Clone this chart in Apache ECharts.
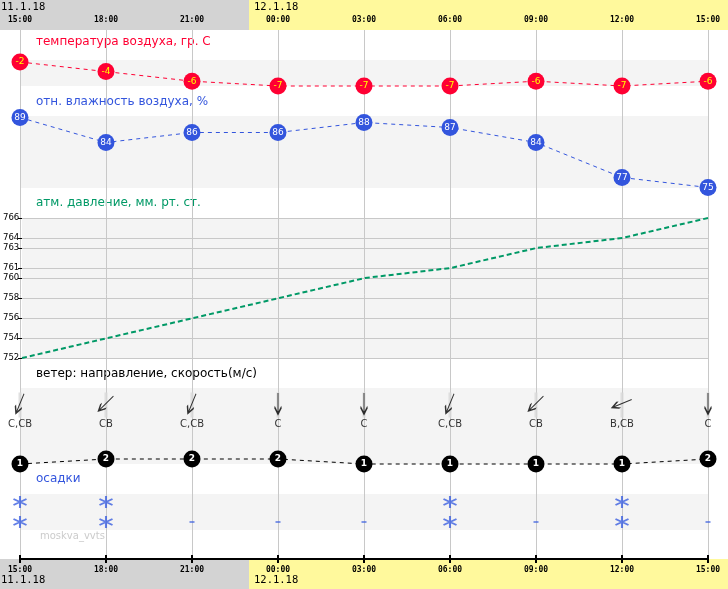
<!DOCTYPE html>
<html><head><meta charset="utf-8">
<script src="https://cdn.jsdelivr.net/npm/echarts@6/dist/echarts.min.js"></script>
<style>html,body{margin:0;padding:0;background:#fff}#c{width:728px;height:589px}</style>
</head><body><div id="c"></div>
<script>
const times = ['15:00','18:00','21:00','00:00','03:00','06:00','09:00','12:00','15:00'];
const dates = ['11.1.18','12.1.18'];
const temperature = [-2,-4,-6,-7,-7,-7,-6,-7,-6];
const humidity = [89,84,86,86,88,87,84,77,75];
const pressure = [752,754,756,758,760,761,763,764,766];
const pressureTicks = [752,754,756,758,760,761,763,764,766];
const windDir = ['С,СВ','СВ','С,СВ','С','С','С,СВ','СВ','В,СВ','С'];
const windSpeed = [1,2,2,2,1,1,1,1,2];
const precipUpper = ['*','*','','','','*','','*',''];
const precipLower = ['*','*','-','-','-','*','-','*','-'];
const titles = ['температура воздуха, гр. С','отн. влажность воздуха, %','атм. давление, мм. рт. ст.','ветер: направление, скорость(м/с)','осадки'];
const watermark = 'moskva_vvts';

const dirDeg = {'С':0,'С,СВ':22.5,'СВ':45,'В,СВ':67.5,'В':90,'В,ЮВ':112.5,'ЮВ':135,'Ю,ЮВ':157.5,'Ю':180,'Ю,ЮЗ':202.5,'ЮЗ':225,'З,ЮЗ':247.5,'З':270,'З,СЗ':292.5,'СЗ':315,'С,СЗ':337.5};

const RED='#ff0033', BLUE='#3355dd', GREEN='#009966', BAND='#f4f4f4', GRIDC='#c8c8c8', PBLUE='#3b5fe0';
const F='"DejaVu Sans"', FM='"DejaVu Sans Mono"';
const L=20, R=20;

const arrowPath = 'path://M3 0 L3 21 M0 14 L3 21 L6 14';
const starPath = 'path://M7 0 L7 12 M1 3 L13 9 M1 9 L13 3';

function hx(i){ return {type:'value',gridIndex:i,min:0,max:8,interval:1,show:false}; }
function precipItem(s,i,row){
  if(!s) return null;
  if(s==='*') return {value:[i,row],symbol:starPath,symbolSize:[13,12],itemStyle:{color:'none',borderColor:PBLUE,borderWidth:2}};
  return {value:[i,row],symbol:'rect',symbolSize:[5,1.6],itemStyle:{color:PBLUE,borderWidth:0}};
}

const chart = echarts.init(document.getElementById('c'));
const option = {
  animation:false,
  backgroundColor:'#ffffff',
  grid:[
    {left:L,right:R,top:60,height:26,show:true,backgroundColor:BAND,borderWidth:0},
    {left:L,right:R,top:116,height:72,show:true,backgroundColor:BAND,borderWidth:0},
    {left:L,right:R,top:218,height:140,show:true,backgroundColor:BAND,borderWidth:0},
    {left:L,right:R,top:388,height:76,show:true,backgroundColor:BAND,borderWidth:0},
    {left:L,right:R,top:449,height:15,show:false},
    {left:L,right:R,top:494,height:36,show:true,backgroundColor:BAND,borderWidth:0},
    {left:L,right:R,top:30,bottom:30,show:false}
  ],
  xAxis:[hx(0),hx(1),hx(2),hx(3),hx(4),hx(5),
    {type:'value',gridIndex:6,min:0,max:8,interval:1,position:'top',z:1,
      axisLine:{show:true,lineStyle:{color:'#000',width:2}},
      axisTick:{show:true,inside:false,length:4,lineStyle:{color:'#000',width:2}},
      axisLabel:{formatter:v=>times[v],fontSize:8,fontWeight:'bold',fontFamily:FM,color:'#000',margin:6},
      splitLine:{show:true,lineStyle:{color:GRIDC,width:1}}},
    {type:'value',gridIndex:6,min:0,max:8,interval:1,position:'bottom',z:1,
      axisLine:{show:true,lineStyle:{color:'#000',width:2}},
      axisTick:{show:true,inside:false,length:4,lineStyle:{color:'#000',width:2}},
      axisLabel:{formatter:v=>times[v],fontSize:8,fontWeight:'bold',fontFamily:FM,color:'#000',margin:7},
      splitLine:{show:false}}
  ],
  yAxis:[
    {type:'value',gridIndex:0,min:-7,max:-1.5833,show:false},
    {type:'value',gridIndex:1,min:74.9,max:89.3,show:false},
    {type:'value',gridIndex:2,min:752,max:766,z:1,
      axisLine:{show:false},splitLine:{show:false},
      axisTick:{show:true,customValues:pressureTicks,length:4,lineStyle:{color:'#000'}},
      axisLabel:{customValues:pressureTicks,align:'left',margin:19,fontSize:8.5,fontFamily:F,color:'#000'}},
    {type:'value',gridIndex:3,min:0,max:76,inverse:true,show:false},
    {type:'value',gridIndex:4,min:1,max:4,show:false},
    {type:'value',gridIndex:5,min:0.6,max:2.4,show:false},
    {type:'value',gridIndex:6,min:0,max:1,show:false}
  ],
  graphic:[
    {type:'rect',z:-1,shape:{x:0,y:0,width:249,height:30},style:{fill:'#d3d3d3'}},
    {type:'rect',z:-1,shape:{x:249,y:0,width:479,height:30},style:{fill:'#fff99c'}},
    {type:'rect',z:-1,shape:{x:0,y:559,width:249,height:30},style:{fill:'#d3d3d3'}},
    {type:'rect',z:-1,shape:{x:249,y:559,width:479,height:30},style:{fill:'#fff99c'}},
    {type:'text',x:1,y:7,style:{text:dates[0],font:'10.5px '+FM,fill:'#000',verticalAlign:'middle'}},
    {type:'text',x:254,y:7,style:{text:dates[1],font:'10.5px '+FM,fill:'#000',verticalAlign:'middle'}},
    {type:'text',x:1,y:580,style:{text:dates[0],font:'10.5px '+FM,fill:'#000',verticalAlign:'middle'}},
    {type:'text',x:254,y:580,style:{text:dates[1],font:'10.5px '+FM,fill:'#000',verticalAlign:'middle'}},
    {type:'text',x:36,y:42,style:{text:titles[0],font:'12px '+F,fill:RED,verticalAlign:'middle'}},
    {type:'text',x:36,y:102,style:{text:titles[1],font:'12px '+F,fill:BLUE,verticalAlign:'middle'}},
    {type:'text',x:36,y:203,style:{text:titles[2],font:'12px '+F,fill:GREEN,verticalAlign:'middle'}},
    {type:'text',x:36,y:374,style:{text:titles[3],font:'12px '+F,fill:'#000',verticalAlign:'middle'}},
    {type:'text',x:36,y:479,style:{text:titles[4],font:'12px '+F,fill:BLUE,verticalAlign:'middle'}},
    {type:'text',x:40,y:536,style:{text:watermark,font:'10px '+F,fill:'#cccccc',verticalAlign:'middle'}}
  ],
  series:[
    {type:'line',xAxisIndex:0,yAxisIndex:0,clip:false,z:3,
      data:temperature.map((v,i)=>[i,v]),symbol:'circle',symbolSize:17,
      itemStyle:{color:RED},lineStyle:{color:RED,width:1,type:[4,4]},
      label:{show:true,position:'inside',color:'#ffff00',fontSize:9,fontFamily:F,formatter:p=>p.value[1]}},
    {type:'line',xAxisIndex:1,yAxisIndex:1,clip:false,z:3,
      data:humidity.map((v,i)=>[i,v]),symbol:'circle',symbolSize:17,
      itemStyle:{color:BLUE},lineStyle:{color:BLUE,width:1,type:[4,4]},
      label:{show:true,position:'inside',color:'#ffffff',fontSize:9,fontFamily:F,formatter:p=>p.value[1]}},
    {type:'line',xAxisIndex:2,yAxisIndex:2,clip:false,z:3,
      data:pressure.map((v,i)=>[i,v]),symbol:'none',
      lineStyle:{color:GREEN,width:2,type:[5,3]},
      markLine:{silent:true,symbol:['none','none'],label:{show:false},z:2,
        lineStyle:{color:GRIDC,type:'solid',width:1},
        data:pressureTicks.map(v=>({yAxis:v}))}},
    {type:'scatter',xAxisIndex:3,yAxisIndex:3,z:2,silent:true,
      data:windDir.map((d,i)=>[i,17]),symbol:'rect',symbolSize:[3,25],
      itemStyle:{color:'#d8d8d8'}},
    {type:'scatter',xAxisIndex:3,yAxisIndex:3,z:3,silent:true,
      data:windDir.map((d,i)=>({value:[i,15.5],symbolRotate:-dirDeg[d]})),
      symbol:arrowPath,symbolSize:[7,21],
      itemStyle:{color:'none',borderColor:'#000',borderWidth:1.6}},
    {type:'scatter',xAxisIndex:3,yAxisIndex:3,z:3,silent:true,
      data:windDir.map((d,i)=>[i,36]),symbolSize:1,itemStyle:{color:'rgba(0,0,0,0)'},
      label:{show:true,position:'inside',color:'#000',fontSize:10,fontFamily:F,formatter:p=>windDir[p.dataIndex]}},
    {type:'line',xAxisIndex:4,yAxisIndex:4,clip:false,z:3,
      data:windSpeed.map((v,i)=>[i,v]),symbol:'circle',symbolSize:17,
      itemStyle:{color:'#000'},lineStyle:{color:'#000',width:1,type:[4,4]},
      label:{show:true,position:'inside',color:'#fff',fontSize:9,fontWeight:'bold',fontFamily:F,formatter:p=>p.value[1]}},
    {type:'scatter',xAxisIndex:5,yAxisIndex:5,z:3,silent:true,
      data:precipUpper.map((s,i)=>precipItem(s,i,2)).filter(Boolean)},
    {type:'scatter',xAxisIndex:5,yAxisIndex:5,z:3,silent:true,
      data:precipLower.map((s,i)=>precipItem(s,i,1)).filter(Boolean)}
  ]
};
chart.setOption(option);
</script></body></html>
